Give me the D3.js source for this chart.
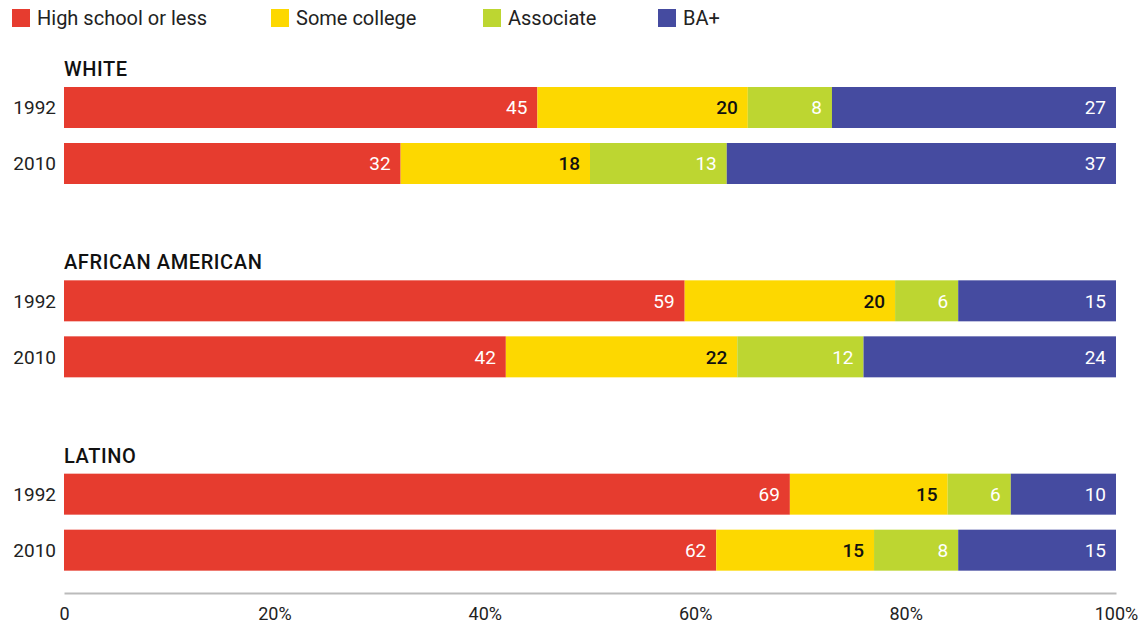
<!DOCTYPE html>
<html>
<head>
<meta charset="utf-8">
<script src="https://cdn.jsdelivr.net/npm/d3@7"></script>
<style>
	body { margin: 0; background: #fff; }
	text { font-family: Roboto, "Noto Sans", sans-serif; }
</style>
</head>
<body>
<div id="chart"></div>
<script>

// data
let groups = ['WHITE', 'AFRICAN AMERICAN', 'LATINO']
let years = ['1992', '2010']
let categories = ['High school or less', 'Some college', 'Associate', 'BA+']
let colors = ['#e63c2f', '#fdd800', '#bdd631', '#454ba0']
let labelColors = ['#fff', '#111', '#fff', '#fff']
let values = {
	'WHITE':            { '1992': [45, 20, 8, 27], '2010': [32, 18, 13, 37] },
	'AFRICAN AMERICAN': { '1992': [59, 20, 6, 15], '2010': [42, 22, 12, 24] },
	'LATINO':           { '1992': [69, 15, 6, 10], '2010': [62, 15, 8, 15] }
}
let ticks = [0, 20, 40, 60, 80, 100]

let width = 1143
let height = 626
let margin = { left: 64, right: 27 }

let x = d3.scaleLinear().domain([0, 100]).range([margin.left, width - margin.right])
let gy = d3.scaleBand().domain(groups).range([58, 638])
let ry = d3.scaleBand().domain(years).range([29, 126]).paddingInner(0.268).paddingOuter(0)

let svg = d3.select('#chart').append('svg').attr('width', width).attr('height', height)

// legend
let legendX = [12, 271, 483, 658]
let legend = svg.append('g').selectAll('g').data(categories).enter().append('g')
	.attr('transform', (d, i) => `translate(${legendX[i]},9)`)
legend.append('rect').attr('width', 18).attr('height', 18).attr('fill', (d, i) => colors[i])
legend.append('text').attr('x', 25).attr('y', 9).attr('dy', '0.36em')
	.attr('font-size', 20).attr('fill', '#222').text(d => d)

// groups
let g = svg.selectAll('g.group').data(groups).enter().append('g').attr('class', 'group')
	.attr('transform', d => `translate(0,${gy(d)})`)

g.append('text').attr('x', margin.left).attr('y', 18)
	.attr('font-size', 20).attr('font-weight', 500).attr('letter-spacing', 0.6)
	.attr('fill', '#111').text(d => d)

let rows = g.selectAll('g.row').data(grp => years.map(yr => ({ grp, yr, vals: values[grp][yr] })))
	.enter().append('g').attr('class', 'row')
	.attr('transform', d => `translate(0,${ry(d.yr)})`)

rows.append('text').attr('x', 56).attr('y', ry.bandwidth() / 2).attr('dy', '0.36em')
	.attr('text-anchor', 'end').attr('font-size', 19).attr('fill', '#222').text(d => d.yr)

let segs = rows.selectAll('g.seg').data(d => {
	let acc = 0
	return d.vals.map((v, i) => { let s = { i, v, x0: acc, x1: acc + v }; acc += v; return s })
}).enter().append('g').attr('class', 'seg')

segs.append('rect')
	.attr('x', d => x(d.x0)).attr('width', d => x(d.x1) - x(d.x0))
	.attr('y', 0).attr('height', ry.bandwidth())
	.attr('fill', d => colors[d.i])

segs.append('text')
	.attr('x', d => x(d.x1) - 10).attr('y', ry.bandwidth() / 2).attr('dy', '0.36em')
	.attr('text-anchor', 'end').attr('font-size', 19)
	.attr('font-weight', d => d.i == 1 ? 500 : 400)
	.attr('fill', d => labelColors[d.i]).text(d => d.v)

// axis
let xAxis = d3.axisBottom(x).tickValues(ticks).tickSize(0).tickPadding(14)
	.tickFormat(d => d == 0 ? '0' : d + '%')
let ax = svg.append('g').attr('transform', 'translate(0,593)').call(xAxis)
ax.select('.domain').attr('stroke', '#bbb').attr('stroke-width', 2)
ax.selectAll('text').attr('font-size', 18).attr('fill', '#222').style('font-family', 'Roboto, sans-serif')

</script>
</body>
</html>
